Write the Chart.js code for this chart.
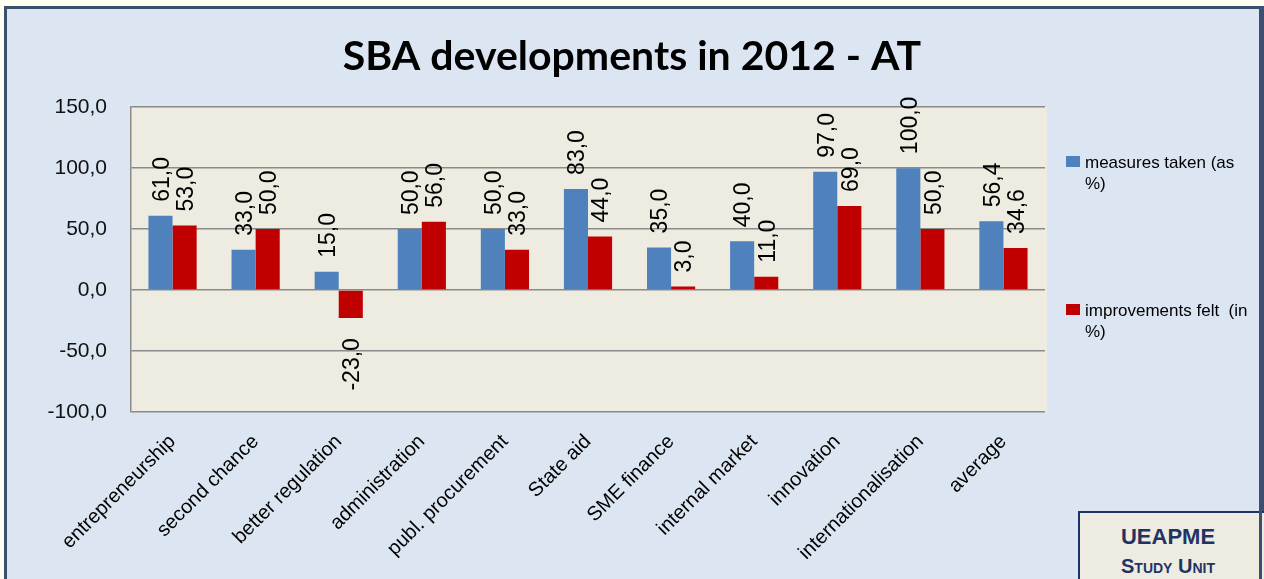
<!DOCTYPE html>
<html>
<head>
<meta charset="utf-8">
<script src="https://cdn.jsdelivr.net/npm/chart.js@4/dist/chart.umd.min.js"></script>
<style>
  html, body { margin: 0; padding: 0; width: 1264px; height: 579px; overflow: hidden; background: #fffff2; }
  #frame { position: absolute; left: 4px; top: 6px; width: 1255px; height: 580px;
           border-left: 3px solid #3c4f70; border-top: 3px solid #3c4f70; border-right: 3px solid #3c4f70;
           background: #dce6f2; }
  #c { position: absolute; left: 0; top: 0; }
  #legend { position: absolute; left: 1066px; top: 152px; width: 180px;
            font-family: "Liberation Sans", Arial, sans-serif; font-size: 17px; color: #000; }
  .item { position: absolute; left: 0; width: 180px; white-space: pre-wrap; line-height: 21px; }
  .sw { position: absolute; left: 0; top: 4px; width: 14px; height: 11px; }
  .tx { position: absolute; left: 19px; top: 0; width: 168px; }
  #badge { position: absolute; left: 1078px; top: 511px; width: 176px; padding-right: 30px; height: 80px;
           border: 2px solid #1f3464; background: #eeebe0; color: #1f3464;
           font-family: "Liberation Sans", Arial, sans-serif; font-weight: bold; text-align: center; }
  #badge .b1 { font-size: 22px; margin-top: 12px; line-height: 24px; }
  #badge .b2 { font-size: 20px; font-variant: small-caps; line-height: 34px; }
  #frameR { position: absolute; left: 1259px; top: 6px; width: 3px; height: 580px; background: #3c4f70; }
</style>
</head>
<body>
<div id="frame"></div>
<canvas id="c" width="1264" height="579"></canvas>
<div id="legend"></div>
<div id="badge"><div class="b1">UEAPME</div><div class="b2">Study Unit</div></div>
<div id="frameR"></div>
<script>
const titleText = 'SBA developments in 2012 - AT';
const categories = ['entrepreneurship', 'second chance', 'better regulation', 'administration',
  'publ. procurement', 'State aid', 'SME finance', 'internal market', 'innovation',
  'internationalisation', 'average'];
const seriesNames = ['measures taken (as %)', 'improvements felt  (in %)'];
const measuresTaken = [61.0, 33.0, 15.0, 50.0, 50.0, 83.0, 35.0, 40.0, 97.0, 100.0, 56.4];
const improvementsFelt = [53.0, 50.0, -23.0, 56.0, 33.0, 44.0, 3.0, 11.0, 69.0, 50.0, 34.6];
const yTicks = [-100, -50, 0, 50, 100, 150];
const seriesColors = ['#4f81bd', '#c00000'];

const fmt = v => Number(v).toFixed(1).replace('.', ',');

const valueLabels = {
  id: 'valueLabels',
  afterDatasetsDraw(chart) {
    const ctx = chart.ctx;
    ctx.save();
    ctx.font = '23px "Liberation Sans", Arial, sans-serif';
    ctx.fillStyle = '#000';
    ctx.textBaseline = 'middle';
    chart.data.datasets.forEach((ds, i) => {
      const meta = chart.getDatasetMeta(i);
      meta.data.forEach((bar, j) => {
        const v = ds.data[j];
        ctx.save();
        if (v >= 0) {
          ctx.translate(bar.x + 2, bar.y - 14);
          ctx.rotate(-Math.PI / 2);
          ctx.textAlign = 'left';
        } else {
          ctx.translate(bar.x + 2, bar.y + 20);
          ctx.rotate(-Math.PI / 2);
          ctx.textAlign = 'right';
        }
        ctx.fillText(fmt(v), 0, 0);
        ctx.restore();
      });
    });
    ctx.restore();
  }
};

const plotBg = {
  id: 'plotBg',
  beforeDraw(chart) {
    const a = chart.chartArea, ctx = chart.ctx;
    ctx.save();
    ctx.fillStyle = '#eeece1';
    ctx.fillRect(a.left, a.top, a.right - a.left + 2, a.bottom - a.top);
    ctx.restore();
  }
};

new Chart(document.getElementById('c'), {
  type: 'bar',
  data: {
    labels: categories,
    datasets: [
      { label: seriesNames[0], data: measuresTaken, backgroundColor: seriesColors[0], borderWidth: 0 },
      { label: seriesNames[1], data: improvementsFelt, backgroundColor: seriesColors[1], borderWidth: 0 }
    ]
  },
  options: {
    responsive: false,
    animation: false,
    layout: { padding: 0 },
    datasets: { bar: { categoryPercentage: 0.58, barPercentage: 1.0 } },
    plugins: {
      legend: { display: false },
      tooltip: { enabled: false },
      title: {
        display: true,
        text: titleText,
        color: '#000',
        font: { family: 'Lato', weight: 'bold', size: 41, lineHeight: 1.2 },
        padding: { top: 32, bottom: 26 }
      }
    },
    scales: {
      x: {
        grid: { display: false },
        border: { display: false },
        ticks: {
          color: '#000',
          font: { family: '"Liberation Sans", Arial, sans-serif', size: 20 },
          maxRotation: 45, minRotation: 45, padding: 10, autoSkip: false
        },
        afterFit(s) { s.height = 167; }
      },
      y: {
        min: -100, max: 150,
        afterBuildTicks(s) { s.ticks = yTicks.map(v => ({ value: v })); },
        grid: { color: '#8a8a8a', lineWidth: 1.5, drawTicks: false },
        border: { display: true, color: '#8a8a8a', width: 1.5 },
        ticks: {
          color: '#111',
          font: { family: '"Liberation Sans", Arial, sans-serif', size: 21 },
          padding: 24,
          callback: v => fmt(v)
        },
        afterFit(s) { s.width = 131; }
      },
      yr: {
        position: 'right',
        display: true,
        grid: { display: false },
        border: { display: false },
        ticks: { display: false },
        afterFit(s) { s.width = 219; }
      }
    }
  },
  plugins: [plotBg, valueLabels]
});

const legend = document.getElementById('legend');
const legendTops = [0, 148];
seriesNames.forEach((name, i) => {
  const it = document.createElement('div');
  it.className = 'item';
  it.style.top = legendTops[i] + 'px';
  const sw = document.createElement('div');
  sw.className = 'sw';
  sw.style.background = seriesColors[i];
  const tx = document.createElement('div');
  tx.className = 'tx';
  tx.textContent = name;
  it.appendChild(sw); it.appendChild(tx);
  legend.appendChild(it);
});
</script>
</body>
</html>
